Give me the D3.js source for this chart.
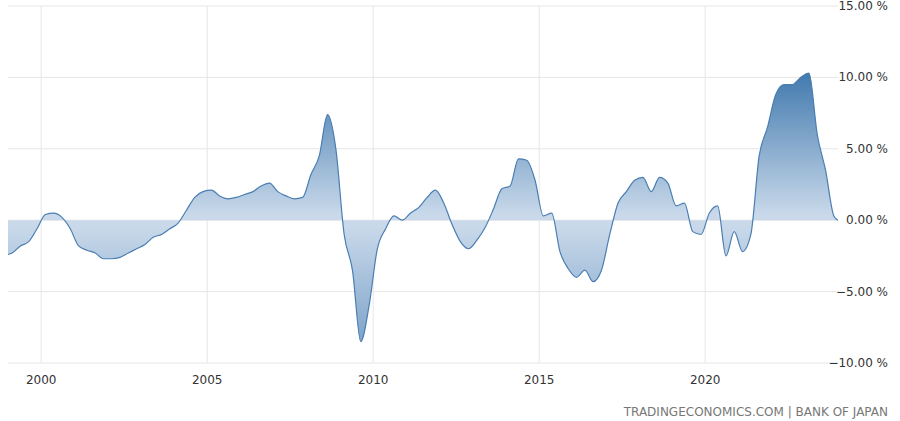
<!DOCTYPE html><html><head><meta charset="utf-8">
<script src="https://cdn.jsdelivr.net/npm/d3@7"></script>
<style>body{margin:0;background:#fff}</style></head><body>
<svg id="c" width="900" height="421"></svg>
<script>
const years=[1999,2000,2001,2002,2003,2004,2005,2006,2007,2008,2009,2010,2011,2012,2013,2014,2015,2016,2017,2018,2019,2020,2021,2022,2023];
const quarterly=[
[-2.3,-1.8,-1.5,-0.6],[0.4,0.5,0.2,-0.6],[-1.8,-2.1,-2.3,-2.7],[-2.7,-2.6,-2.3,-2.0],
[-1.7,-1.2,-1.0,-0.6],[-0.2,0.7,1.6,2.0],[2.1,1.7,1.5,1.6],[1.8,2.0,2.4,2.6],
[2.0,1.7,1.5,1.6],[3.2,4.5,7.4,5.0],[-1.0,-3.5,-8.5,-6.0],[-2.0,-0.6,0.3,0.0],
[0.5,0.9,1.6,2.1],[1.2,-0.3,-1.5,-2.0],[-1.4,-0.5,0.8,2.2],[2.4,4.3,4.2,2.8],
[0.3,0.5,-2.2,-3.4],[-4.0,-3.5,-4.3,-3.5],[-1.0,1.2,2.0,2.8],[3.0,2.0,3.0,2.6],
[1.0,1.2,-0.8,-1.0],[0.5,1.0,-2.5,-0.8],[-2.2,-1.0,4.5,6.5],[8.8,9.5,9.5,10.0],
[10.3,6.0,3.5,0.3]];
const yTicks=[15,10,5,0,-5,-10];
const xTicks=[2000,2005,2010,2015,2020];
const source="TRADINGECONOMICS.COM | BANK OF JAPAN";
const data=[];
years.forEach((y,i)=>quarterly[i].forEach((v,q)=>data.push({t:y+q*0.25+0.125,v})));
data.unshift({t:1999.0,v:-2.4});
data.push({t:2024.0,v:0.0});
const svg=d3.select("#c");
const x=d3.scaleLinear().domain([1999.0,2024.0]).range([8,838]);
const y=d3.scaleLinear().domain([-10,15]).range([363,6]);
const g=svg.append("g");
yTicks.forEach(t=>g.append("line").attr("x1",8).attr("x2",838).attr("y1",y(t)).attr("y2",y(t)).attr("stroke","#e6e6e6"));
xTicks.forEach(t=>g.append("line").attr("x1",x(t)).attr("x2",x(t)).attr("y1",6).attr("y2",363).attr("stroke","#e6e6e6"));
const defs=svg.append("defs");
const gr=defs.append("linearGradient").attr("id","gr").attr("gradientUnits","userSpaceOnUse").attr("x1",0).attr("x2",0).attr("y1",y(10.5)).attr("y2",y(-9));
[[0,"#3f78ad"],[0.52,"#c9d9ea"],[0.56,"#c9d9ea"],[1,"#7aa1c8"]].forEach(s=>gr.append("stop").attr("offset",s[0]).attr("stop-color",s[1]));
const curve=d3.curveMonotoneX;
svg.append("path").datum(data).attr("fill","url(#gr)").attr("d",d3.area().x(d=>x(d.t)).y0(y(0)).y1(d=>y(d.v)).curve(curve));
svg.append("path").datum(data).attr("fill","none").attr("stroke","#4a7eb2").attr("stroke-width",1.2).attr("d",d3.line().x(d=>x(d.t)).y(d=>y(d.v)).curve(curve));
yTicks.forEach(t=>svg.append("text").attr("x",888).attr("y",y(t)+4).attr("text-anchor","end").attr("font-family","DejaVu Sans").attr("font-size",12).attr("fill","#333").text(d3.format(".2f")(t)+" %"));
xTicks.forEach(t=>svg.append("text").attr("x",x(t)).attr("y",384).attr("text-anchor","middle").attr("font-family","DejaVu Sans").attr("font-size",12).attr("fill","#333").text(t));
svg.append("text").attr("x",888).attr("y",416).attr("text-anchor","end").attr("font-family","DejaVu Sans").attr("font-size",12).attr("fill","#777").text(source);
</script></body></html>
